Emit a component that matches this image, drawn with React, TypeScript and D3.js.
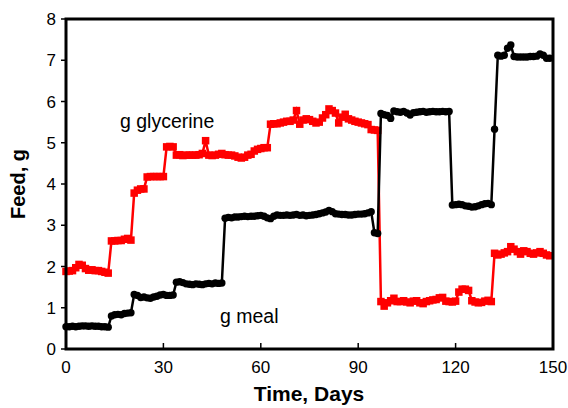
import React from "react";
import * as d3 from "d3";

const mealSegments: number[][] = [
  // days 0-13
  [0.54, 0.54, 0.55, 0.54, 0.55, 0.56, 0.56, 0.55, 0.56, 0.55, 0.55, 0.54, 0.54, 0.53],
  // days 14-20
  [0.8, 0.83, 0.84, 0.83, 0.86, 0.87, 0.88],
  // days 21-33
  [1.32, 1.3, 1.25, 1.26, 1.24, 1.23, 1.26, 1.28, 1.31, 1.32, 1.3, 1.3, 1.31],
  // days 34-48
  [1.62, 1.63, 1.61, 1.58, 1.57, 1.56, 1.58, 1.57, 1.56, 1.58, 1.59, 1.58, 1.6, 1.59, 1.6],
  // days 49-94
  [3.17, 3.19, 3.18, 3.2, 3.2, 3.21, 3.22, 3.21, 3.22, 3.22, 3.23, 3.24, 3.22, 3.18, 3.16,
   3.22, 3.25, 3.24, 3.24, 3.25, 3.24, 3.25, 3.26, 3.24, 3.25, 3.23, 3.24, 3.25, 3.26, 3.28,
   3.3, 3.32, 3.36, 3.33, 3.28, 3.27, 3.26, 3.26, 3.25, 3.25, 3.26, 3.27, 3.27, 3.28, 3.3, 3.33],
  // days 95-96
  [2.82, 2.8],
  // days 97-118
  [5.71, 5.68, 5.66, 5.59, 5.77, 5.75, 5.74, 5.76, 5.72, 5.67, 5.73, 5.74, 5.75, 5.76, 5.74,
   5.75, 5.76, 5.75, 5.75, 5.76, 5.75, 5.76],
  // days 119-131
  [3.49, 3.5, 3.51, 3.5, 3.47, 3.46, 3.44, 3.45, 3.47, 3.5, 3.52, 3.53, 3.5],
  // day 132
  [5.33],
  // days 133-149
  [7.12, 7.1, 7.12, 7.29, 7.37, 7.09, 7.08, 7.08, 7.08, 7.08, 7.09, 7.09, 7.1, 7.15, 7.12, 7.05, 7.05],
];

const glycerineSegments: number[][] = [
  // days 0-13
  [1.88, 1.89, 1.9, 1.97, 2.05, 2.03, 1.95, 1.91, 1.92, 1.9, 1.9, 1.88, 1.86, 1.84],
  // days 14-20
  [2.62, 2.62, 2.63, 2.63, 2.66, 2.68, 2.64],
  // days 21-24
  [3.78, 3.85, 3.88, 3.88],
  // days 25-30
  [4.17, 4.18, 4.18, 4.18, 4.18, 4.18],
  // days 31-33
  [4.9, 4.91, 4.9],
  // days 34-42
  [4.7, 4.71, 4.69, 4.7, 4.7, 4.7, 4.7, 4.71, 4.74],
  // day 43
  [5.05],
  // days 44-62
  [4.7, 4.69, 4.7, 4.72, 4.74, 4.71, 4.7, 4.7, 4.68, 4.65, 4.63, 4.65, 4.7, 4.72, 4.8, 4.84, 4.86, 4.88, 4.88],
  // days 63-96
  [5.45, 5.46, 5.46, 5.48, 5.5, 5.52, 5.52, 5.55, 5.78, 5.45, 5.55, 5.58, 5.56, 5.52, 5.48,
   5.5, 5.6, 5.68, 5.82, 5.78, 5.72, 5.48, 5.62, 5.69, 5.58, 5.55, 5.52, 5.5, 5.48, 5.46,
   5.44, 5.32, 5.31, 5.3],
  // days 97-131
  [1.15, 1.04, 1.12, 1.17, 1.23, 1.15, 1.15, 1.17, 1.14, 1.12, 1.16, 1.17, 1.12, 1.1, 1.15,
   1.17, 1.19, 1.2, 1.24, 1.25, 1.16, 1.15, 1.14, 1.16, 1.38, 1.45, 1.45, 1.42, 1.17, 1.14,
   1.12, 1.13, 1.16, 1.18, 1.15],
  // days 132-149
  [2.32, 2.28, 2.3, 2.33, 2.36, 2.48, 2.42, 2.36, 2.3, 2.38, 2.36, 2.32, 2.3, 2.33, 2.36, 2.32, 2.28, 2.26],
];

const mealValues: number[] = mealSegments.flat();
const glycerineValues: number[] = glycerineSegments.flat();

const xTicks = [0, 30, 60, 90, 120, 150];
const yTicks = [0, 1, 2, 3, 4, 5, 6, 7, 8];

const FONT = "'Liberation Sans', Arial, Helvetica, sans-serif";

export default function App() {
  const W = 568;
  const H = 408;
  const left = 66;
  const right = 553;
  const top = 19;
  const bottom = 349;

  const x = d3.scaleLinear().domain([0, 150]).range([left, right]);
  const y = d3.scaleLinear().domain([0, 8]).range([bottom, top]);

  const mealData = mealValues.map((v, i) => [i, v] as [number, number]);
  const glyData = glycerineValues.map((v, i) => [i, v] as [number, number]);

  const line = d3
    .line<[number, number]>()
    .x((d) => x(d[0]))
    .y((d) => y(d[1]));

  const sq = 7.5;

  return (
    <svg
      width={W}
      height={H}
      style={{ position: "absolute", left: 0, top: 0, background: "#fff" }}
    >
      {/* y tick marks (outside) and labels */}
      {yTicks.map((t) => (
        <g key={"y" + t}>
          <line x1={left - 5} x2={left} y1={y(t)} y2={y(t)} stroke="#000" strokeWidth={1.5} />
          <text
            x={left - 10}
            y={y(t)}
            dy="0.36em"
            textAnchor="end"
            fontFamily={FONT}
            fontSize={17}
            fill="#000"
          >
            {t}
          </text>
        </g>
      ))}
      {/* x tick marks (inside) and labels */}
      {xTicks.map((t) => (
        <g key={"x" + t}>
          <line x1={x(t)} x2={x(t)} y1={bottom} y2={bottom - 6} stroke="#000" strokeWidth={1.5} />
          <text
            x={x(t)}
            y={bottom + 24}
            textAnchor="middle"
            fontFamily={FONT}
            fontSize={17}
            fill="#000"
          >
            {t}
          </text>
        </g>
      ))}

      {/* glycerine series */}
      <path d={line(glyData) || ""} fill="none" stroke="#ff0000" strokeWidth={2.5} />
      {glyData.map((d, i) => (
        <rect
          key={"g" + i}
          x={x(d[0]) - sq / 2}
          y={y(d[1]) - sq / 2}
          width={sq}
          height={sq}
          fill="#ff0000"
        />
      ))}

      {/* meal series */}
      <path d={line(mealData) || ""} fill="none" stroke="#000" strokeWidth={2.5} />
      {mealData.map((d, i) => (
        <circle key={"m" + i} cx={x(d[0])} cy={y(d[1])} r={3.7} fill="#000" />
      ))}

      {/* frame */}
      <rect
        x={left}
        y={top}
        width={right - left}
        height={bottom - top}
        fill="none"
        stroke="#000"
        strokeWidth={3}
      />

      {/* annotations */}
      <text x={120} y={128} fontFamily={FONT} fontSize={19.5} fill="#000">
        g glycerine
      </text>
      <text x={220} y={323} fontFamily={FONT} fontSize={19.5} fill="#000">
        g meal
      </text>

      {/* axis titles */}
      <text
        x={309}
        y={401}
        textAnchor="middle"
        fontFamily={FONT}
        fontSize={21}
        fontWeight="bold"
        fill="#000"
      >
        Time, Days
      </text>
      <text
        transform={`translate(25, 184) rotate(-90)`}
        textAnchor="middle"
        fontFamily={FONT}
        fontSize={20}
        fontWeight="bold"
        fill="#000"
      >
        Feed, g
      </text>
    </svg>
  );
}
